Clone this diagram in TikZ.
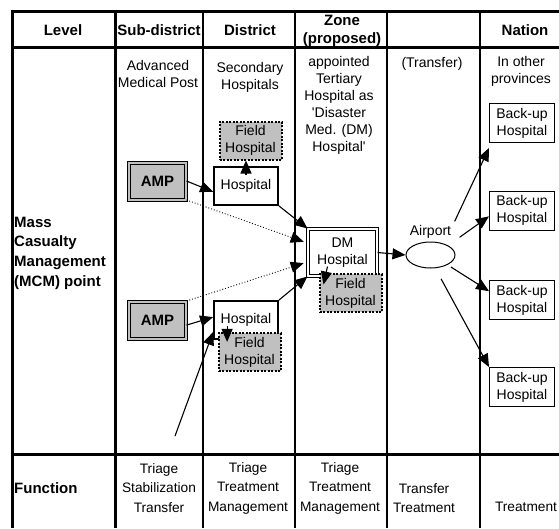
\documentclass[tikz,border=0pt]{standalone}
\usepackage{fontspec}
\setmainfont{Liberation Sans}
\usetikzlibrary{arrows.meta, positioning, calc, shapes.geometric}
\definecolor{fieldgray}{RGB}{192,192,192}

\begin{document}
\begin{tikzpicture}[x=1pt,y=-1pt,
    hdr/.style={font=\fontsize{15}{18}\selectfont\bfseries,align=center},
    txt/.style={font=\fontsize{14}{17}\selectfont,align=center},
    fnt/.style={font=\fontsize{13.7}{19.5}\selectfont,align=center},
    rowlbl/.style={font=\fontsize{15}{19.7}\selectfont\bfseries,align=left,anchor=west,inner sep=2pt},
    thickgrid/.style={line width=3pt},
    grid/.style={line width=2pt},
    ampbox/.style={draw,fill=fieldgray,double=fieldgray,double distance=2pt,line width=1pt,
      minimum width=57pt,minimum height=37pt,inner sep=0pt,font=\fontsize{15}{17}\selectfont\bfseries},
    hospbox/.style={txt,draw,fill=white,line width=1.8pt,minimum width=64pt,minimum height=38pt,inner sep=0pt},
    fieldbox/.style={txt,draw,fill=fieldgray,line width=2pt,dash pattern=on 2pt off 1.5pt,
      minimum width=62pt,minimum height=38pt,inner sep=0pt},
    dmbox/.style={txt,draw,fill=white,double=white,double distance=2pt,line width=1pt,
      minimum width=69pt,minimum height=47pt,inner sep=0pt},
    bubox/.style={txt,draw,line width=1pt,minimum width=65pt,minimum height=39pt,inner sep=0pt},
    arrow/.style={-{Triangle[length=13pt,width=11pt]},line width=1.1pt},
    dotarrow/.style={arrow,line width=0.9pt,dotted}
  ]
  \useasboundingbox (0,0) rectangle (559,528);

  % table
  \draw[thickgrid] (12,11) -- (559,11);
  \draw[thickgrid] (12,47) -- (559,47);
  \draw[thickgrid] (12,454) -- (559,454);
  \draw[thickgrid] (12,9.5) -- (12,528);
  \draw[thickgrid] (115,9.5) -- (115,528);
  \foreach \cx in {203,295,387,480}
    \draw[grid] (\cx,10) -- (\cx,528);

  % header row
  \node[hdr] (hlevel) at (63,30) {Level};
  \node[hdr] (hsub) at (159,30) {Sub-district};
  \node[hdr] (hdist) at (250,30) {District};
  \node[hdr] (hzone) at (342,31) {Zone\\(proposed)};
  \node[hdr] (hnation) at (525,30) {Nation};

  % column notes
  \node[txt] (tamp) at (158,74) {Advanced\\Medical Post};
  \node[txt] (tsec) at (250,77) {Secondary\\Hospitals};
  \node[txt] (tzone) at (339,105) {appointed\\Tertiary\\Hospital as\\\textquotesingle Disaster\\Med. (DM)\\Hospital\textquotesingle};
  \node[txt] (ttrans) at (432,64) {(Transfer)};
  \node[txt] (tprov) at (521,71) {In other\\provinces};

  \node[rowlbl] (lmcm) at (12,253) {Mass\\Casualty\\Management\\(MCM) point};
  \node[rowlbl] (lfunc) at (12,488) {Function};

  % functions
  \node[fnt] (fsub) at (159,488) {Triage\\Stabilization\\Transfer};
  \node[fnt] (fdist) at (248,488) {Triage\\Treatment\\Management};
  \node[fnt] (fzone) at (340,488) {Triage\\Treatment\\Management};
  \node[fnt] (ftrans) at (424,498) {Transfer\\Treatment};
  \node[fnt] (fnat) at (526,507) {Treatment};

  % MCM points
  \node[ampbox] (amp1) at (157.5,181) {AMP};
  \node[ampbox] (amp2) at (157.5,320) {AMP};
  \node[fieldbox] (field1) at (250.5,140.5) {Field\\Hospital};
  \node[hospbox] (hosp1) at (246,186) {Hospital};
  \node[hospbox] (hosp2) at (246,320) {Hospital};
  \node[fieldbox] (field2) at (249.5,352) {Field\\Hospital};
  \node[dmbox] (dm) at (342.5,252.5) {DM\\Hospital};
  \node[fieldbox] (field3) at (350.5,293) {Field\\Hospital};
  \node[ellipse,draw,line width=1pt,minimum width=49pt,minimum height=26pt,inner sep=0pt] (airport) at (430.5,255) {};
  \node[txt,above=0pt of airport] (airlbl) {Airport};
  \node[bubox] (bu1) at (522,123) {Back-up\\Hospital};
  \node[bubox] (bu2) at (522,210.5) {Back-up\\Hospital};
  \node[bubox] (bu3) at (522,300) {Back-up\\Hospital};
  \node[bubox] (bu4) at (522,387) {Back-up\\Hospital};
  \coordinate (patients) at (175,436);

  % flows
  \draw[arrow] (amp1.east) -- (hosp1.190);
  \draw[arrow] (amp2.-10) -- (hosp2.175);
  \draw[arrow] (patients) -- (hosp2.200);
  \draw[arrow] ($(hosp1.north)+(0,9)$) -- (hosp1.north |- field1.south);
  \draw[arrow] ($(hosp2.south west)+(14,-14)$) -- ($(hosp2.south west)+(14,2)$);
  \draw[arrow] ($(dm.south west)+(20,-10)$) -- ($(dm.south west)+(16,8)$);
  \draw[arrow] (hosp1.south east) -- (dm.north west);
  \draw[dotarrow,shorten >=4pt] (amp1.south east) -- (dm.165);
  \draw[dotarrow,shorten >=4pt] (amp2.north east) -- (dm.195);
  \draw[arrow] (hosp2.north east) -- (dm.south west);
  \draw[arrow] (dm.east) -- (airport.west);
  \draw[arrow] (airlbl.north east) -- ($(bu1.south west)+(0,5)$);
  \draw[arrow,shorten <=14pt] (airport.north east) -- (bu2.190);
  \draw[arrow,shorten <=4pt] (airport.-30) -- (bu3.165);
  \draw[arrow,shorten <=12pt] (airport.-70) -- (bu4.north west);
\end{tikzpicture}
\end{document}
